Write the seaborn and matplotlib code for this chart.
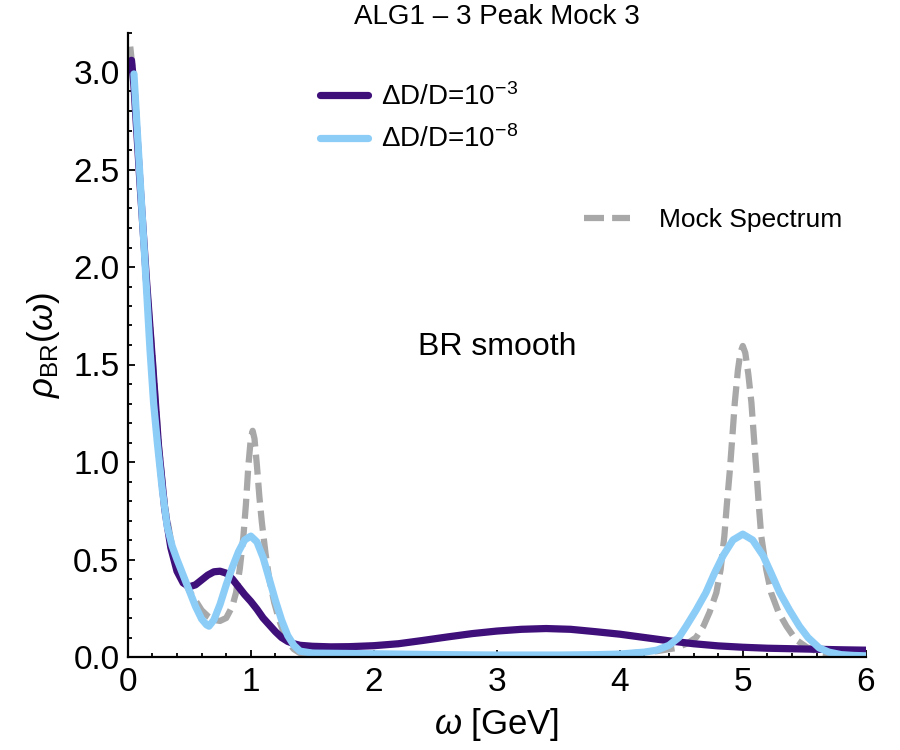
import numpy as np
import pandas as pd
import seaborn as sns
import matplotlib
matplotlib.use("Agg")
import matplotlib.pyplot as plt
from matplotlib.lines import Line2D

# mock spectrum (grey dashed)
omega_mock = [0.02, 0.05, 0.10, 0.15, 0.20, 0.25, 0.30, 0.35, 0.40, 0.45, 0.50, 0.55, 0.60, 0.65,
              0.70, 0.75, 0.80, 0.85, 0.88, 0.91, 0.94, 0.96, 0.98, 1.00, 1.015, 1.03, 1.05, 1.07,
              1.09, 1.12, 1.15, 1.19, 1.23, 1.27, 1.31, 1.35, 1.40, 1.60, 2.00, 2.50, 3.00, 3.50,
              3.90, 4.10, 4.30, 4.45, 4.55, 4.62, 4.68, 4.73, 4.785, 4.82, 4.85, 4.87, 4.895, 4.915,
              4.935, 4.96, 4.98, 5.00, 5.02, 5.045, 5.07, 5.09, 5.11, 5.13, 5.15, 5.19, 5.23, 5.29,
              5.355, 5.43, 5.52, 5.60, 5.70, 5.80, 6.00]
rho_mock = [3.13, 2.95, 2.42, 1.95, 1.55, 1.10, 0.78, 0.60, 0.48, 0.40, 0.34, 0.29, 0.24, 0.21,
            0.19, 0.185, 0.20, 0.26, 0.33, 0.45, 0.62, 0.78, 0.98, 1.12, 1.16, 1.12, 0.98, 0.82,
            0.69, 0.53, 0.40, 0.28, 0.19, 0.12, 0.07, 0.04, 0.02, 0.01, 0.008, 0.006, 0.006, 0.008,
            0.012, 0.02, 0.03, 0.045, 0.07, 0.10, 0.158, 0.23, 0.33, 0.45, 0.62, 0.78, 0.96, 1.13,
            1.305, 1.47, 1.56, 1.595, 1.56, 1.45, 1.305, 1.13, 0.96, 0.78, 0.62, 0.45, 0.33, 0.23,
            0.158, 0.09, 0.05, 0.03, 0.015, 0.008, 0.005]

# reconstruction, dD/D = 1e-3 (purple)
omega_d3 = [0.03, 0.05, 0.10, 0.15, 0.20, 0.25, 0.30, 0.35, 0.40, 0.45, 0.50, 0.55, 0.60, 0.65,
            0.70, 0.75, 0.80, 0.85, 0.90, 0.95, 1.00, 1.05, 1.10, 1.15, 1.20, 1.25, 1.30, 1.35,
            1.40, 1.50, 1.65, 1.80, 2.00, 2.20, 2.40, 2.60, 2.80, 3.00, 3.20, 3.40, 3.60, 3.80,
            4.00, 4.20, 4.40, 4.60, 4.80, 5.00, 5.20, 5.50, 5.80, 6.00]
rho_d3 = [3.06, 2.93, 2.42, 1.95, 1.52, 1.08, 0.76, 0.56, 0.44, 0.38, 0.36, 0.37, 0.395, 0.42,
          0.437, 0.44, 0.43, 0.40, 0.36, 0.32, 0.285, 0.245, 0.20, 0.165, 0.13, 0.10, 0.08, 0.068,
          0.06, 0.055, 0.052, 0.053, 0.058, 0.068, 0.085, 0.103, 0.12, 0.133, 0.142, 0.146, 0.142, 0.13,
          0.117, 0.10, 0.083, 0.068, 0.057, 0.050, 0.045, 0.041, 0.037, 0.035]

# reconstruction, dD/D = 1e-8 (light blue)
omega_d8 = [0.05, 0.10, 0.14, 0.18, 0.21, 0.24, 0.28, 0.32, 0.36, 0.40, 0.45, 0.50, 0.55, 0.60,
            0.64, 0.66, 0.70, 0.75, 0.80, 0.85, 0.90, 0.95, 1.00, 1.05, 1.10, 1.15, 1.20, 1.25,
            1.30, 1.35, 1.40, 1.50, 1.80, 2.20, 2.60, 3.00, 3.50, 3.80, 4.00, 4.20, 4.30, 4.40,
            4.48, 4.54, 4.62, 4.70, 4.77, 4.84, 4.92, 5.00, 5.08, 5.165, 5.23, 5.30, 5.38, 5.46,
            5.53, 5.62, 5.70, 5.80, 5.90, 6.00]
rho_d8 = [2.99, 2.45, 2.02, 1.58, 1.30, 1.10, 0.86, 0.67, 0.57, 0.50, 0.42, 0.34, 0.26, 0.195,
          0.165, 0.158, 0.19, 0.27, 0.37, 0.46, 0.54, 0.60, 0.62, 0.59, 0.51, 0.40, 0.29, 0.19,
          0.11, 0.06, 0.03, 0.02, 0.018, 0.015, 0.012, 0.01, 0.01, 0.012, 0.015, 0.025, 0.035, 0.06,
          0.10, 0.158, 0.24, 0.33, 0.43, 0.52, 0.60, 0.63, 0.60, 0.52, 0.43, 0.33, 0.24, 0.158,
          0.10, 0.047, 0.025, 0.012, 0.008, 0.006]

label_d3 = r"ΔD/D=$10^{-3}$"
label_d8 = r"ΔD/D=$10^{-8}$"
label_mock = "Mock Spectrum"

c_d3 = "#3f0f7a"
c_d8 = "#8ccdf8"
c_mock = "#a8a8a8"

sns.set_style("ticks")
plt.rcParams["font.family"] = ["Liberation Sans", "DejaVu Sans"]
plt.rcParams["mathtext.fontset"] = "custom"
plt.rcParams["mathtext.rm"] = "Liberation Sans"
plt.rcParams["mathtext.it"] = "Liberation Sans:italic"
plt.rcParams["mathtext.bf"] = "Liberation Sans:bold"
for k in ["text.color", "axes.labelcolor", "xtick.color", "ytick.color", "axes.edgecolor"]:
    plt.rcParams[k] = "black"

fig = plt.figure(figsize=(9, 7.5), dpi=100)
ax = fig.add_axes([0.142, 0.124, 0.820, 0.832])

sns.lineplot(x=omega_mock, y=rho_mock, ax=ax, color=c_mock, lw=4.5, label=label_mock)
ax.lines[-1].set_dashes((3.2, 1.3))
sns.lineplot(x=omega_d3, y=rho_d3, ax=ax, color=c_d3, lw=5.2, label=label_d3)
sns.lineplot(x=omega_d8, y=rho_d8, ax=ax, color=c_d8, lw=5.2, label=label_d8)
ax.get_legend().remove()

ax.set_xlim(0, 6)
ax.set_ylim(0, 3.2)
ax.set_xticks(np.arange(0, 7, 1))
ax.set_xticks(np.arange(0, 6.01, 0.2), minor=True)
ax.set_yticks(np.arange(0, 3.01, 0.5))
ax.set_yticks(np.arange(0, 3.21, 0.1), minor=True)
ax.set_xticklabels([str(i) for i in range(7)])
ax.set_yticklabels([f"{v:.1f}" for v in np.arange(0, 3.01, 0.5)])
ax.tick_params(which="both", direction="in", width=1.3, labelsize=24)
ax.tick_params(which="major", length=5)
ax.tick_params(which="minor", length=2.8)
ax.tick_params(axis="x", pad=7)
ax.tick_params(axis="y", pad=6)
sns.despine(ax=ax)
for s in ["left", "bottom"]:
    ax.spines[s].set_linewidth(1.6)

ax.set_xlabel(r"$\omega$ [GeV]", fontsize=25, labelpad=6)
ax.set_ylabel(r"$\rho_{\mathrm{BR}}(\omega)$", fontsize=25, labelpad=8)
fig.text(0.552, 0.978, "ALG1 – 3 Peak Mock 3", ha="center", va="center", fontsize=20)
ax.text(3.0, 1.59, "BR smooth", ha="center", va="center", fontsize=23)

h_d3 = Line2D([], [], color=c_d3, lw=5.2)
h_d8 = Line2D([], [], color=c_d8, lw=5.2)
h_mock = Line2D([], [], color=c_mock, lw=4.5, dashes=(3.2, 1.3))

leg1 = ax.legend([h_d3, h_d8], [label_d3, label_d8], loc="upper left",
                 bbox_to_anchor=(0.355, 0.889), bbox_transform=fig.transFigure,
                 frameon=False, fontsize=20, handlelength=1.75, handletextpad=0.45,
                 labelspacing=0.52, borderpad=0, borderaxespad=0)
ax.add_artist(leg1)
ax.legend([h_mock], [label_mock], loc="upper left",
          bbox_to_anchor=(0.649, 0.723), bbox_transform=fig.transFigure,
          frameon=False, fontsize=19, handlelength=1.75, handletextpad=1.1,
          borderpad=0, borderaxespad=0)

fig.savefig("out.png", dpi=100)
